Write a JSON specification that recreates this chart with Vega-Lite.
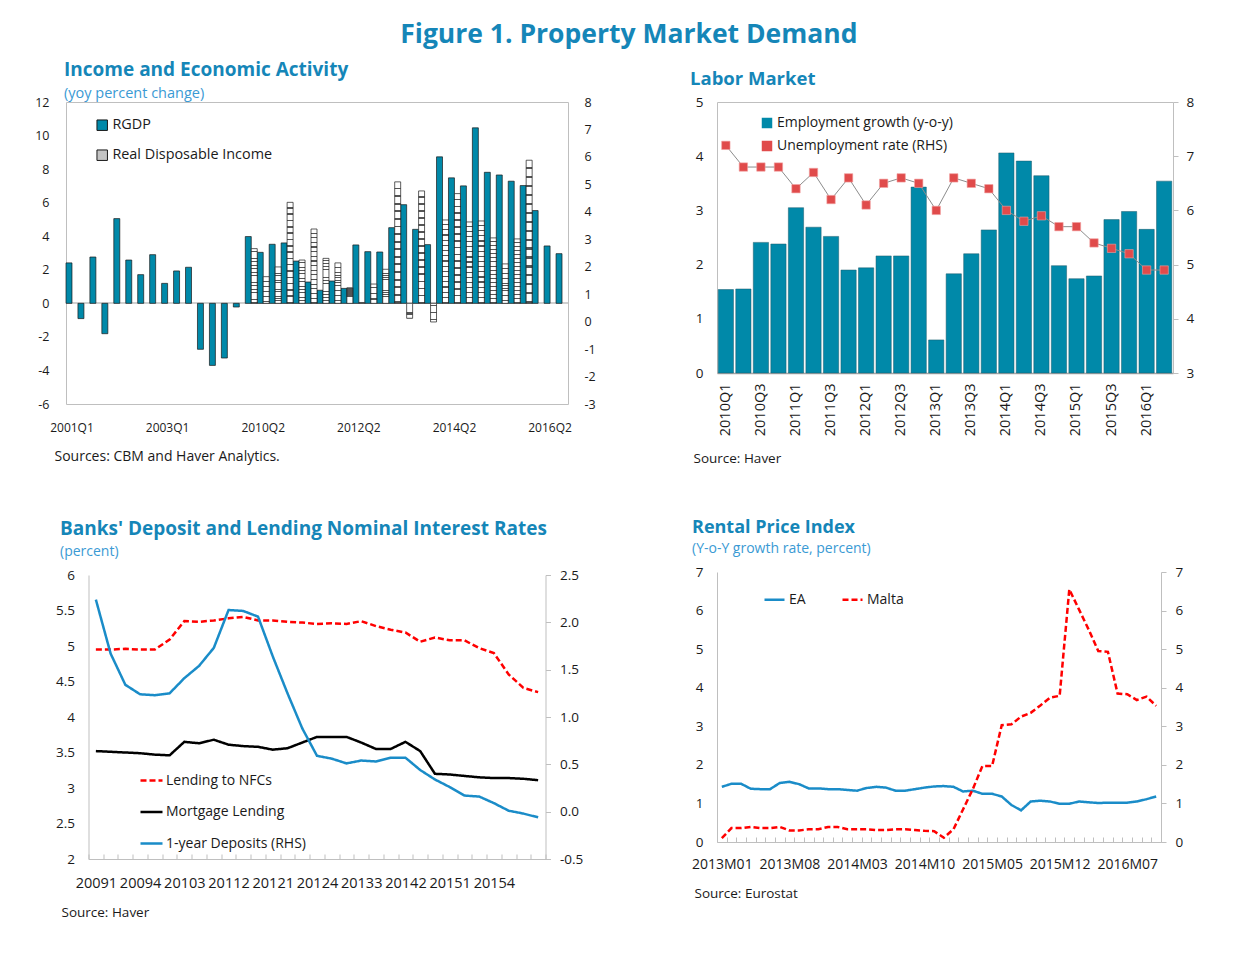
{
"$schema": "https://vega.github.io/schema/vega-lite/v6.json",
"background": "white",
"padding": {"left": 25, "top": 21, "right": 5, "bottom": 5},
"title": {"text": "Figure 1. Property Market Demand", "fontSize": 26.5, "fontWeight": "bold", "color": "#1586b8", "anchor": "middle", "dx": 19, "offset": 12},
"config": {
  "font": "Open Sans",
  "locale": {"number": {"decimal": ".", "thousands": ",", "grouping": [3], "currency": ["$", ""], "minus": "-"}},
  "view": {"stroke": null},
  "title": {"font": "Open Sans", "subtitleFont": "Open Sans"},
  "axis": {"labelFont": "Open Sans", "labelFontSize": 13, "labelColor": "#1a1a1a", "titleFont": "Open Sans", "titleFontSize": 13, "titleFontWeight": "normal", "titleColor": "#1a1a1a", "domainColor": "#bfbfbf", "tickColor": "#bfbfbf", "grid": false},
  "legend": {"labelFont": "Open Sans", "labelFontSize": 14, "labelColor": "#1a1a1a", "padding": 0, "labelLimit": 320}
},
"datasets": {
  "tl": [
    {"q":"2001Q1","RGDP":2.41},{"q":"2001Q2","RGDP":-0.91},{"q":"2001Q3","RGDP":2.76},{"q":"2001Q4","RGDP":-1.81},
    {"q":"2002Q1","RGDP":5.05},{"q":"2002Q2","RGDP":2.58},{"q":"2002Q3","RGDP":1.71},{"q":"2002Q4","RGDP":2.90},
    {"q":"2003Q1","RGDP":1.19},{"q":"2003Q2","RGDP":1.93},{"q":"2003Q3","RGDP":2.15},{"q":"2003Q4","RGDP":-2.74},
    {"q":"2004Q1","RGDP":-3.70},{"q":"2004Q2","RGDP":-3.26},{"q":"2004Q3","RGDP":-0.22},
    {"q":"2010Q1","RGDP":3.98,"Real Disposable Income":3.26},
    {"q":"2010Q2","RGDP":3.04,"Real Disposable Income":1.59},
    {"q":"2010Q3","RGDP":3.52,"Real Disposable Income":2.17},
    {"q":"2010Q4","RGDP":3.60,"Real Disposable Income":6.02},
    {"q":"2011Q1","RGDP":2.52,"Real Disposable Income":2.58},
    {"q":"2011Q2","RGDP":1.27,"Real Disposable Income":4.43},
    {"q":"2011Q3","RGDP":0.78,"Real Disposable Income":2.68},
    {"q":"2011Q4","RGDP":1.33,"Real Disposable Income":2.41},
    {"q":"2012Q1","RGDP":0.89,"Real Disposable Income":0.93},
    {"q":"2012Q2","RGDP":3.48,"Real Disposable Income":0.05},
    {"q":"2012Q3","RGDP":3.08,"Real Disposable Income":1.15},
    {"q":"2012Q4","RGDP":3.06,"Real Disposable Income":2.03},
    {"q":"2013Q1","RGDP":4.51,"Real Disposable Income":7.24},
    {"q":"2013Q2","RGDP":5.88,"Real Disposable Income":-0.89},
    {"q":"2013Q3","RGDP":4.41,"Real Disposable Income":6.70},
    {"q":"2013Q4","RGDP":3.50,"Real Disposable Income":-1.11},
    {"q":"2014Q1","RGDP":8.73,"Real Disposable Income":4.97},
    {"q":"2014Q2","RGDP":7.48,"Real Disposable Income":6.54},
    {"q":"2014Q3","RGDP":7.00,"Real Disposable Income":4.85},
    {"q":"2014Q4","RGDP":10.46,"Real Disposable Income":4.91},
    {"q":"2015Q1","RGDP":7.81,"Real Disposable Income":3.90},
    {"q":"2015Q2","RGDP":7.65,"Real Disposable Income":2.35},
    {"q":"2015Q3","RGDP":7.28,"Real Disposable Income":3.84},
    {"q":"2015Q4","RGDP":7.02,"Real Disposable Income":8.53},
    {"q":"2016Q1","RGDP":5.53},{"q":"2016Q2","RGDP":3.42},{"q":"2016Q3","RGDP":2.96}
  ],
  "tr": [
    {"q":"2010Q1","emp":1.54,"unemp":7.2},{"q":"2010Q2","emp":1.55,"unemp":6.8},{"q":"2010Q3","emp":2.41,"unemp":6.8},{"q":"2010Q4","emp":2.38,"unemp":6.8},
    {"q":"2011Q1","emp":3.05,"unemp":6.4},{"q":"2011Q2","emp":2.69,"unemp":6.7},{"q":"2011Q3","emp":2.52,"unemp":6.2},{"q":"2011Q4","emp":1.90,"unemp":6.6},
    {"q":"2012Q1","emp":1.94,"unemp":6.1},{"q":"2012Q2","emp":2.16,"unemp":6.5},{"q":"2012Q3","emp":2.16,"unemp":6.6},{"q":"2012Q4","emp":3.43,"unemp":6.5},
    {"q":"2013Q1","emp":0.61,"unemp":6.0},{"q":"2013Q2","emp":1.83,"unemp":6.6},{"q":"2013Q3","emp":2.20,"unemp":6.5},{"q":"2013Q4","emp":2.64,"unemp":6.4},
    {"q":"2014Q1","emp":4.06,"unemp":6.0},{"q":"2014Q2","emp":3.91,"unemp":5.8},{"q":"2014Q3","emp":3.64,"unemp":5.9},{"q":"2014Q4","emp":1.98,"unemp":5.7},
    {"q":"2015Q1","emp":1.74,"unemp":5.7},{"q":"2015Q2","emp":1.79,"unemp":5.4},{"q":"2015Q3","emp":2.83,"unemp":5.3},{"q":"2015Q4","emp":2.98,"unemp":5.2},
    {"q":"2016Q1","emp":2.65,"unemp":4.9},{"q":"2016Q2","emp":3.54,"unemp":4.9}
  ],
  "bl": [
    {"p":"20091","Lending to NFCs":4.95,"Mortgage Lending":3.52,"1-year Deposits (RHS)":2.24},
    {"p":"20092","Lending to NFCs":4.95,"Mortgage Lending":3.51,"1-year Deposits (RHS)":1.67},
    {"p":"20093","Lending to NFCs":4.96,"Mortgage Lending":3.50,"1-year Deposits (RHS)":1.34},
    {"p":"20094","Lending to NFCs":4.95,"Mortgage Lending":3.49,"1-year Deposits (RHS)":1.24},
    {"p":"20101","Lending to NFCs":4.95,"Mortgage Lending":3.47,"1-year Deposits (RHS)":1.23},
    {"p":"20102","Lending to NFCs":5.09,"Mortgage Lending":3.46,"1-year Deposits (RHS)":1.25},
    {"p":"20103","Lending to NFCs":5.35,"Mortgage Lending":3.65,"1-year Deposits (RHS)":1.41},
    {"p":"20104","Lending to NFCs":5.34,"Mortgage Lending":3.63,"1-year Deposits (RHS)":1.54},
    {"p":"20111","Lending to NFCs":5.36,"Mortgage Lending":3.68,"1-year Deposits (RHS)":1.73},
    {"p":"20112","Lending to NFCs":5.39,"Mortgage Lending":3.61,"1-year Deposits (RHS)":2.13},
    {"p":"20113","Lending to NFCs":5.41,"Mortgage Lending":3.59,"1-year Deposits (RHS)":2.12},
    {"p":"20114","Lending to NFCs":5.36,"Mortgage Lending":3.58,"1-year Deposits (RHS)":2.06},
    {"p":"20121","Lending to NFCs":5.36,"Mortgage Lending":3.54,"1-year Deposits (RHS)":1.64},
    {"p":"20122","Lending to NFCs":5.34,"Mortgage Lending":3.56,"1-year Deposits (RHS)":1.25},
    {"p":"20123","Lending to NFCs":5.33,"Mortgage Lending":3.64,"1-year Deposits (RHS)":0.88},
    {"p":"20124","Lending to NFCs":5.31,"Mortgage Lending":3.72,"1-year Deposits (RHS)":0.59},
    {"p":"20131","Lending to NFCs":5.32,"Mortgage Lending":3.72,"1-year Deposits (RHS)":0.56},
    {"p":"20132","Lending to NFCs":5.31,"Mortgage Lending":3.72,"1-year Deposits (RHS)":0.51},
    {"p":"20133","Lending to NFCs":5.35,"Mortgage Lending":3.64,"1-year Deposits (RHS)":0.54},
    {"p":"20134","Lending to NFCs":5.28,"Mortgage Lending":3.55,"1-year Deposits (RHS)":0.53},
    {"p":"20141","Lending to NFCs":5.23,"Mortgage Lending":3.55,"1-year Deposits (RHS)":0.57},
    {"p":"20142","Lending to NFCs":5.19,"Mortgage Lending":3.65,"1-year Deposits (RHS)":0.57},
    {"p":"20143","Lending to NFCs":5.06,"Mortgage Lending":3.52,"1-year Deposits (RHS)":0.44},
    {"p":"20144","Lending to NFCs":5.12,"Mortgage Lending":3.20,"1-year Deposits (RHS)":0.34},
    {"p":"20151","Lending to NFCs":5.08,"Mortgage Lending":3.19,"1-year Deposits (RHS)":0.26},
    {"p":"20152","Lending to NFCs":5.08,"Mortgage Lending":3.17,"1-year Deposits (RHS)":0.17},
    {"p":"20153","Lending to NFCs":4.97,"Mortgage Lending":3.15,"1-year Deposits (RHS)":0.16},
    {"p":"20154","Lending to NFCs":4.90,"Mortgage Lending":3.14,"1-year Deposits (RHS)":0.09},
    {"p":"20161","Lending to NFCs":4.60,"Mortgage Lending":3.14,"1-year Deposits (RHS)":0.01},
    {"p":"20162","Lending to NFCs":4.41,"Mortgage Lending":3.13,"1-year Deposits (RHS)":-0.02},
    {"p":"20163","Lending to NFCs":4.35,"Mortgage Lending":3.11,"1-year Deposits (RHS)":-0.06}
  ],
  "br": [
    {"m":"2013M01","EA":1.43,"Malta":0.10},{"m":"2013M02","EA":1.51,"Malta":0.36},{"m":"2013M03","EA":1.51,"Malta":0.36},
    {"m":"2013M04","EA":1.38,"Malta":0.39},{"m":"2013M05","EA":1.37,"Malta":0.36},{"m":"2013M06","EA":1.37,"Malta":0.36},
    {"m":"2013M07","EA":1.53,"Malta":0.39},{"m":"2013M08","EA":1.56,"Malta":0.30},{"m":"2013M09","EA":1.50,"Malta":0.30},
    {"m":"2013M10","EA":1.39,"Malta":0.33},{"m":"2013M11","EA":1.39,"Malta":0.33},{"m":"2013M12","EA":1.37,"Malta":0.39},
    {"m":"2014M01","EA":1.37,"Malta":0.39},{"m":"2014M02","EA":1.35,"Malta":0.33},{"m":"2014M03","EA":1.33,"Malta":0.33},
    {"m":"2014M04","EA":1.40,"Malta":0.33},{"m":"2014M05","EA":1.43,"Malta":0.31},{"m":"2014M06","EA":1.41,"Malta":0.31},
    {"m":"2014M07","EA":1.33,"Malta":0.33},{"m":"2014M08","EA":1.33,"Malta":0.33},{"m":"2014M09","EA":1.37,"Malta":0.31},
    {"m":"2014M10","EA":1.41,"Malta":0.29},{"m":"2014M11","EA":1.44,"Malta":0.28},{"m":"2014M12","EA":1.45,"Malta":0.11},
    {"m":"2015M01","EA":1.43,"Malta":0.33},{"m":"2015M02","EA":1.31,"Malta":0.85},{"m":"2015M03","EA":1.33,"Malta":1.37},
    {"m":"2015M04","EA":1.25,"Malta":1.97},{"m":"2015M05","EA":1.25,"Malta":1.97},{"m":"2015M06","EA":1.18,"Malta":3.03},
    {"m":"2015M07","EA":0.96,"Malta":3.05},{"m":"2015M08","EA":0.82,"Malta":3.25},{"m":"2015M09","EA":1.05,"Malta":3.35},
    {"m":"2015M10","EA":1.07,"Malta":3.54},{"m":"2015M11","EA":1.05,"Malta":3.74},{"m":"2015M12","EA":0.99,"Malta":3.79},
    {"m":"2016M01","EA":0.99,"Malta":6.55},{"m":"2016M02","EA":1.05,"Malta":6.03},{"m":"2016M03","EA":1.03,"Malta":5.51},
    {"m":"2016M04","EA":1.01,"Malta":4.95},{"m":"2016M05","EA":1.02,"Malta":4.93},{"m":"2016M06","EA":1.02,"Malta":3.85},
    {"m":"2016M07","EA":1.02,"Malta":3.83},{"m":"2016M08","EA":1.05,"Malta":3.68},{"m":"2016M09","EA":1.11,"Malta":3.77},
    {"m":"2016M10","EA":1.18,"Malta":3.53}
  ]
},
"spacing": 85,
"resolve": {"scale": {"color": "independent", "strokeDash": "independent"}, "legend": {"color": "independent", "strokeDash": "independent"}},
"hconcat": [
 {"vconcat": [
  {
   "width": 502, "height": 302,
   "view": {"stroke": "#bfbfbf"},
   "title": {"text": "Income and Economic Activity", "subtitle": "(yoy percent change)", "anchor": "start", "frame": "group", "dx": -2, "fontSize": 19, "fontWeight": "bold", "color": "#1586b8", "subtitleFontSize": 14.5, "subtitleColor": "#3a9ad4", "subtitlePadding": 7, "offset": -4},
   "data": {"name": "tl"},
   "transform": [{"fold": ["RGDP", "Real Disposable Income"], "as": ["series", "v"]}],
   "layer": [
    {"mark": {"type": "rule", "color": "#d0d0d0", "strokeWidth": 1},
     "encoding": {"y": {"datum": 0, "type": "quantitative", "scale": {"domain": [-6, 12], "nice": false}, "axis": null}}},
    {"transform": [{"filter": "datum.series === 'RGDP'"}],
     "mark": {"type": "bar", "stroke": "#1a1a1a", "strokeWidth": 0.7},
     "encoding": {
       "x": {"field": "q", "type": "nominal", "scale": {"paddingInner": 0, "paddingOuter": 0},
             "axis": {"values": ["2001Q1","2003Q1","2010Q2","2012Q2","2014Q2","2016Q2"], "labelAngle": 0, "ticks": false, "domain": false, "labelPadding": 18, "labelFontSize": 12,
                      "title": "Sources: CBM and Haver Analytics.", "titleAnchor": "start", "titleAlign": "left", "titleBaseline": "middle", "titleX": -12, "titleY": 52, "titleFontSize": 14}},
       "xOffset": {"field": "series", "type": "nominal", "scale": {"domain": ["RGDP", "Real Disposable Income"], "paddingInner": 0, "paddingOuter": 0}},
       "y": {"field": "v", "type": "quantitative", "scale": {"domain": [-6, 12], "nice": false},
             "axis": {"orient": "left", "values": [-6,-4,-2,0,2,4,6,8,10,12], "ticks": false, "domain": false, "labelPadding": 17, "labelFontSize": 12.5, "minExtent": 40, "title": null}},
       "color": {"field": "series", "type": "nominal", "scale": {"domain": ["RGDP", "Real Disposable Income"], "range": ["#0089a9", "#c4c4c4"]},
                 "legend": {"orient": "none", "legendX": 29, "legendY": 16, "title": null, "symbolType": "square", "symbolSize": 110, "symbolStrokeColor": "#1a1a1a", "symbolStrokeWidth": 1, "rowPadding": 14, "labelOffset": 3, "labelFontSize": 14.4}}
     }},
    {"transform": [{"filter": "datum.series === 'Real Disposable Income'"}],
     "mark": {"type": "bar", "stroke": "#1a1a1a", "strokeWidth": 0.7,
              "fill": {"gradient": "linear", "x1": 0, "y1": 0, "x2": 0, "y2": 1, "stops": [
                {"offset":0,"color":"#ffffff"},{"offset":0.047,"color":"#ffffff"},{"offset":0.047,"color":"#555555"},{"offset":0.0625,"color":"#555555"},
                {"offset":0.0625,"color":"#ffffff"},{"offset":0.1095,"color":"#ffffff"},{"offset":0.1095,"color":"#555555"},{"offset":0.125,"color":"#555555"},
                {"offset":0.125,"color":"#ffffff"},{"offset":0.172,"color":"#ffffff"},{"offset":0.172,"color":"#555555"},{"offset":0.1875,"color":"#555555"},
                {"offset":0.1875,"color":"#ffffff"},{"offset":0.2345,"color":"#ffffff"},{"offset":0.2345,"color":"#555555"},{"offset":0.25,"color":"#555555"},
                {"offset":0.25,"color":"#ffffff"},{"offset":0.297,"color":"#ffffff"},{"offset":0.297,"color":"#555555"},{"offset":0.3125,"color":"#555555"},
                {"offset":0.3125,"color":"#ffffff"},{"offset":0.3595,"color":"#ffffff"},{"offset":0.3595,"color":"#555555"},{"offset":0.375,"color":"#555555"},
                {"offset":0.375,"color":"#ffffff"},{"offset":0.422,"color":"#ffffff"},{"offset":0.422,"color":"#555555"},{"offset":0.4375,"color":"#555555"},
                {"offset":0.4375,"color":"#ffffff"},{"offset":0.4845,"color":"#ffffff"},{"offset":0.4845,"color":"#555555"},{"offset":0.5,"color":"#555555"},
                {"offset":0.5,"color":"#ffffff"},{"offset":0.547,"color":"#ffffff"},{"offset":0.547,"color":"#555555"},{"offset":0.5625,"color":"#555555"},
                {"offset":0.5625,"color":"#ffffff"},{"offset":0.6095,"color":"#ffffff"},{"offset":0.6095,"color":"#555555"},{"offset":0.625,"color":"#555555"},
                {"offset":0.625,"color":"#ffffff"},{"offset":0.672,"color":"#ffffff"},{"offset":0.672,"color":"#555555"},{"offset":0.6875,"color":"#555555"},
                {"offset":0.6875,"color":"#ffffff"},{"offset":0.7345,"color":"#ffffff"},{"offset":0.7345,"color":"#555555"},{"offset":0.75,"color":"#555555"},
                {"offset":0.75,"color":"#ffffff"},{"offset":0.797,"color":"#ffffff"},{"offset":0.797,"color":"#555555"},{"offset":0.8125,"color":"#555555"},
                {"offset":0.8125,"color":"#ffffff"},{"offset":0.8595,"color":"#ffffff"},{"offset":0.8595,"color":"#555555"},{"offset":0.875,"color":"#555555"},
                {"offset":0.875,"color":"#ffffff"},{"offset":0.922,"color":"#ffffff"},{"offset":0.922,"color":"#555555"},{"offset":0.9375,"color":"#555555"},
                {"offset":0.9375,"color":"#ffffff"},{"offset":0.9845,"color":"#ffffff"},{"offset":0.9845,"color":"#555555"},{"offset":1,"color":"#555555"}]}},
     "encoding": {
       "x": {"field": "q", "type": "nominal", "scale": {"paddingInner": 0, "paddingOuter": 0},
             "axis": {"values": ["2001Q1","2003Q1","2010Q2","2012Q2","2014Q2","2016Q2"], "labelAngle": 0, "ticks": false, "domain": false, "labelPadding": 18, "labelFontSize": 12,
                      "title": "Sources: CBM and Haver Analytics.", "titleAnchor": "start", "titleAlign": "left", "titleBaseline": "middle", "titleX": -12, "titleY": 52, "titleFontSize": 14}},
       "xOffset": {"field": "series", "type": "nominal", "scale": {"domain": ["RGDP", "Real Disposable Income"], "paddingInner": 0, "paddingOuter": 0}},
       "y": {"field": "v", "type": "quantitative", "scale": {"domain": [-6, 12], "nice": false}, "axis": null}
     }},
    {"mark": {"type": "rule", "opacity": 0},
     "encoding": {"y": {"datum": 0, "type": "quantitative", "scale": {"domain": [-3, 8], "nice": false},
                        "axis": {"orient": "right", "values": [-3,-2,-1,0,1,2,3,4,5,6,7,8], "ticks": false, "domain": false, "labelPadding": 16, "labelFontSize": 12.5, "minExtent": 32, "title": null}}}}
   ],
   "resolve": {"scale": {"y": "independent"}}
  },
  {
   "width": 457, "height": 284,
   "title": {"text": "Banks' Deposit and Lending Nominal Interest Rates", "subtitle": "(percent)", "anchor": "start", "frame": "group", "dx": -28.5, "fontSize": 19, "fontWeight": "bold", "color": "#1586b8", "subtitleFontSize": 14, "subtitleColor": "#3a9ad4", "subtitlePadding": 6, "offset": 9},
   "data": {"name": "bl"},
   "transform": [{"fold": ["Lending to NFCs", "Mortgage Lending", "1-year Deposits (RHS)"], "as": ["series", "v"]}],
   "layer": [
    {"transform": [{"filter": "datum.series !== '1-year Deposits (RHS)'"}],
     "mark": {"type": "line", "strokeWidth": 2.5},
     "encoding": {
       "x": {"field": "p", "type": "ordinal", "scale": {"type": "band", "paddingInner": 0, "paddingOuter": 0}, "bandPosition": 0.5,
             "axis": {"tickBand": "extent", "labelOverlap": false, "labelAngle": 0,
                      "labelExpr": "indexof(['20091','20094','20103','20112','20121','20124','20133','20142','20151','20154'], datum.value) >= 0 ? datum.label : ''",
                      "ticks": true, "tickSize": -5, "domain": true, "labelPadding": 22, "labelFontSize": 14.5,
                      "title": "Source: Haver", "titleAnchor": "start", "titleAlign": "left", "titleBaseline": "middle", "titleX": -27.5, "titleY": 53, "titleFontSize": 13.5}},
       "y": {"field": "v", "type": "quantitative", "scale": {"domain": [2, 6], "nice": false},
             "axis": {"orient": "left", "values": [2,2.5,3,3.5,4,4.5,5,5.5,6], "format": "~g", "ticks": false, "domain": true, "labelPadding": 14, "labelFontSize": 13.5, "title": null}},
       "color": {"field": "series", "type": "nominal", "scale": {"domain": ["Lending to NFCs", "Mortgage Lending", "1-year Deposits (RHS)"], "range": ["#ff0000", "#000000", "#1a8cc8"]},
                 "legend": {"orient": "none", "legendX": 50.5, "legendY": 193, "title": null, "symbolType": "stroke", "symbolSize": 484, "symbolStrokeWidth": 2.5, "rowPadding": 11.5, "labelOffset": 2, "labelFontSize": 14}},
       "strokeDash": {"field": "series", "type": "nominal", "scale": {"domain": ["Lending to NFCs", "Mortgage Lending", "1-year Deposits (RHS)"], "range": [[6,3],[1,0],[1,0]]},
                 "legend": {"orient": "none", "legendX": 50.5, "legendY": 193, "title": null, "symbolType": "stroke", "symbolSize": 484, "symbolStrokeWidth": 2.5, "rowPadding": 11.5, "labelOffset": 2, "labelFontSize": 14}}
     }},
    {"transform": [{"filter": "datum.series === '1-year Deposits (RHS)'"}],
     "mark": {"type": "line", "strokeWidth": 2.5},
     "encoding": {
       "x": {"field": "p", "type": "ordinal", "scale": {"type": "band", "paddingInner": 0, "paddingOuter": 0}, "bandPosition": 0.5,
             "axis": {"tickBand": "extent", "labelOverlap": false, "labelAngle": 0,
                      "labelExpr": "indexof(['20091','20094','20103','20112','20121','20124','20133','20142','20151','20154'], datum.value) >= 0 ? datum.label : ''",
                      "ticks": true, "tickSize": -5, "domain": true, "labelPadding": 22, "labelFontSize": 14.5,
                      "title": "Source: Haver", "titleAnchor": "start", "titleAlign": "left", "titleBaseline": "middle", "titleX": -27.5, "titleY": 53, "titleFontSize": 13.5}},
       "y": {"field": "v", "type": "quantitative", "scale": {"domain": [-0.5, 2.5], "nice": false},
             "axis": {"orient": "right", "values": [-0.5,0,0.5,1,1.5,2,2.5], "format": ".1f", "ticks": true, "tickSize": 5, "domain": true, "labelPadding": 9, "labelFontSize": 13.5, "title": null}},
       "color": {"field": "series", "type": "nominal", "scale": {"domain": ["Lending to NFCs", "Mortgage Lending", "1-year Deposits (RHS)"], "range": ["#ff0000", "#000000", "#1a8cc8"]},
                 "legend": {"orient": "none", "legendX": 50.5, "legendY": 193, "title": null, "symbolType": "stroke", "symbolSize": 484, "symbolStrokeWidth": 2.5, "rowPadding": 11.5, "labelOffset": 2, "labelFontSize": 14}},
       "strokeDash": {"field": "series", "type": "nominal", "scale": {"domain": ["Lending to NFCs", "Mortgage Lending", "1-year Deposits (RHS)"], "range": [[6,3],[1,0],[1,0]]},
                 "legend": {"orient": "none", "legendX": 50.5, "legendY": 193, "title": null, "symbolType": "stroke", "symbolSize": 484, "symbolStrokeWidth": 2.5, "rowPadding": 11.5, "labelOffset": 2, "labelFontSize": 14}}
     }}
   ],
   "resolve": {"scale": {"y": "independent"}}
  }
 ], "spacing": 171, "bounds": "flush", "center": true,
 "resolve": {"scale": {"color": "independent", "strokeDash": "independent"}, "legend": {"color": "independent", "strokeDash": "independent"}}},
 {"vconcat": [
  {
   "width": 456, "height": 271,
   "view": {"stroke": "#bfbfbf"},
   "title": {"text": "Labor Market", "anchor": "start", "frame": "group", "dx": -27, "fontSize": 18.5, "fontWeight": "bold", "color": "#1586b8", "offset": 7},
   "data": {"name": "tr"},
   "layer": [
    {"mark": {"type": "bar", "stroke": "#1d5a6b", "strokeWidth": 0.5},
     "encoding": {
       "x": {"field": "q", "type": "nominal", "scale": {"type": "band", "paddingInner": 0.13, "paddingOuter": 0.07},
             "axis": {"values": ["2010Q1","2010Q3","2011Q1","2011Q3","2012Q1","2012Q3","2013Q1","2013Q3","2014Q1","2014Q3","2015Q1","2015Q3","2016Q1"], "labelAngle": -90, "ticks": false, "domain": true, "domainColor": "#a6a6a6", "domainWidth": 1.5, "labelPadding": 10, "labelFontSize": 14.5,
                      "title": "Source: Haver", "titleAnchor": "start", "titleAlign": "left", "titleBaseline": "middle", "titleX": -24, "titleY": 85, "titleFontSize": 13.5}},
       "y": {"field": "emp", "type": "quantitative", "scale": {"domain": [0, 5], "nice": false},
             "axis": {"orient": "left", "values": [0,1,2,3,4,5], "ticks": false, "domain": false, "labelPadding": 14, "labelFontSize": 13.5, "minExtent": 30, "title": null}},
       "color": {"datum": "Employment growth (y-o-y)", "type": "nominal", "scale": {"domain": ["Employment growth (y-o-y)", "Unemployment rate (RHS)"], "range": ["#0089a9", "#e04b4b"]},
                 "legend": {"orient": "none", "legendX": 43, "legendY": 14, "title": null, "symbolType": "square", "symbolSize": 110, "symbolStrokeWidth": 0, "rowPadding": 9, "labelOffset": 3, "labelFontSize": 14, "labelLimit": 320}}
     }},
    {"encoding": {
       "x": {"field": "q", "type": "nominal", "scale": {"type": "band", "paddingInner": 0.13, "paddingOuter": 0.07},
             "axis": {"values": ["2010Q1","2010Q3","2011Q1","2011Q3","2012Q1","2012Q3","2013Q1","2013Q3","2014Q1","2014Q3","2015Q1","2015Q3","2016Q1"], "labelAngle": -90, "ticks": false, "domain": true, "domainColor": "#a6a6a6", "domainWidth": 1.5, "labelPadding": 10, "labelFontSize": 14.5,
                      "title": "Source: Haver", "titleAnchor": "start", "titleAlign": "left", "titleBaseline": "middle", "titleX": -24, "titleY": 85, "titleFontSize": 13.5}},
       "y": {"field": "unemp", "type": "quantitative", "scale": {"domain": [3, 8], "nice": false},
             "axis": {"orient": "right", "values": [3,4,5,6,7,8], "ticks": true, "tickSize": 5, "domain": false, "labelPadding": 8, "labelFontSize": 13.5, "title": null}}
     },
     "layer": [
       {"mark": {"type": "line", "color": "#8c8c8c", "strokeWidth": 1}},
       {"mark": {"type": "point", "shape": "square", "filled": true, "size": 70, "opacity": 1, "stroke": "#f2a0a0", "strokeWidth": 0.6},
        "encoding": {"color": {"datum": "Unemployment rate (RHS)", "type": "nominal"}}}
     ]}
   ],
   "resolve": {"scale": {"y": "independent"}}
  },
  {
   "width": 444, "height": 270,
   "title": {"text": "Rental Price Index", "subtitle": "(Y-o-Y growth rate, percent)", "anchor": "start", "frame": "group", "dx": -25, "fontSize": 18, "fontWeight": "bold", "color": "#1586b8", "subtitleFontSize": 14, "subtitleColor": "#3a9ad4", "subtitlePadding": 5, "offset": 9},
   "data": {"name": "br"},
   "transform": [{"fold": ["EA", "Malta"], "as": ["series", "v"]}],
   "layer": [
    {"transform": [{"filter": "datum.series === 'EA'"}],
     "mark": {"type": "line", "strokeWidth": 2.5},
     "encoding": {
       "x": {"field": "m", "type": "ordinal", "scale": {"type": "band", "paddingInner": 0, "paddingOuter": 0}, "bandPosition": 0.5,
             "axis": {"tickBand": "extent", "labelOverlap": false, "labelAngle": 0,
                      "labelExpr": "indexof(['2013M01','2013M08','2014M03','2014M10','2015M05','2015M12','2016M07'], datum.value) >= 0 ? datum.label : ''",
                      "ticks": true, "tickSize": -5, "domain": true, "labelPadding": 20, "labelFontSize": 14,
                      "title": "Source: Eurostat", "titleAnchor": "start", "titleAlign": "left", "titleBaseline": "middle", "titleX": -23, "titleY": 51, "titleFontSize": 13.5}},
       "y": {"field": "v", "type": "quantitative", "scale": {"domain": [0, 7], "nice": false},
             "axis": {"orient": "left", "values": [0,1,2,3,4,5,6,7], "ticks": false, "domain": true, "labelPadding": 14, "labelFontSize": 13.5, "title": null}},
       "color": {"field": "series", "type": "nominal", "scale": {"domain": ["EA", "Malta"], "range": ["#1a8cc8", "#ff0000"]},
                 "legend": {"orient": "none", "direction": "horizontal", "columns": 2, "legendX": 46, "legendY": 16, "title": null, "symbolType": "stroke", "symbolSize": 400, "symbolStrokeWidth": 2.5, "columnPadding": 31, "labelOffset": 3, "labelFontSize": 14}},
       "strokeDash": {"field": "series", "type": "nominal", "scale": {"domain": ["EA", "Malta"], "range": [[1,0],[6,3]]},
                 "legend": {"orient": "none", "direction": "horizontal", "columns": 2, "legendX": 46, "legendY": 16, "title": null, "symbolType": "stroke", "symbolSize": 400, "symbolStrokeWidth": 2.5, "columnPadding": 31, "labelOffset": 3, "labelFontSize": 14}}
     }},
    {"transform": [{"filter": "datum.series === 'Malta'"}],
     "mark": {"type": "line", "strokeWidth": 2.5},
     "encoding": {
       "x": {"field": "m", "type": "ordinal", "scale": {"type": "band", "paddingInner": 0, "paddingOuter": 0}, "bandPosition": 0.5,
             "axis": {"tickBand": "extent", "labelOverlap": false, "labelAngle": 0,
                      "labelExpr": "indexof(['2013M01','2013M08','2014M03','2014M10','2015M05','2015M12','2016M07'], datum.value) >= 0 ? datum.label : ''",
                      "ticks": true, "tickSize": -5, "domain": true, "labelPadding": 20, "labelFontSize": 14,
                      "title": "Source: Eurostat", "titleAnchor": "start", "titleAlign": "left", "titleBaseline": "middle", "titleX": -23, "titleY": 51, "titleFontSize": 13.5}},
       "y": {"field": "v", "type": "quantitative", "scale": {"domain": [0, 7], "nice": false},
             "axis": {"orient": "right", "values": [0,1,2,3,4,5,6,7], "ticks": true, "tickSize": 5, "domain": true, "labelPadding": 9, "labelFontSize": 13.5, "title": null}},
       "color": {"field": "series", "type": "nominal", "scale": {"domain": ["EA", "Malta"], "range": ["#1a8cc8", "#ff0000"]},
                 "legend": {"orient": "none", "direction": "horizontal", "columns": 2, "legendX": 46, "legendY": 16, "title": null, "symbolType": "stroke", "symbolSize": 400, "symbolStrokeWidth": 2.5, "columnPadding": 31, "labelOffset": 3, "labelFontSize": 14}},
       "strokeDash": {"field": "series", "type": "nominal", "scale": {"domain": ["EA", "Malta"], "range": [[1,0],[6,3]]},
                 "legend": {"orient": "none", "direction": "horizontal", "columns": 2, "legendX": 46, "legendY": 16, "title": null, "symbolType": "stroke", "symbolSize": 400, "symbolStrokeWidth": 2.5, "columnPadding": 31, "labelOffset": 3, "labelFontSize": 14}}
     }}
   ],
   "resolve": {"axis": {"y": "independent"}}
  }
 ], "spacing": 199, "bounds": "flush",
 "resolve": {"scale": {"color": "independent", "strokeDash": "independent"}, "legend": {"color": "independent", "strokeDash": "independent"}}}
]
}
